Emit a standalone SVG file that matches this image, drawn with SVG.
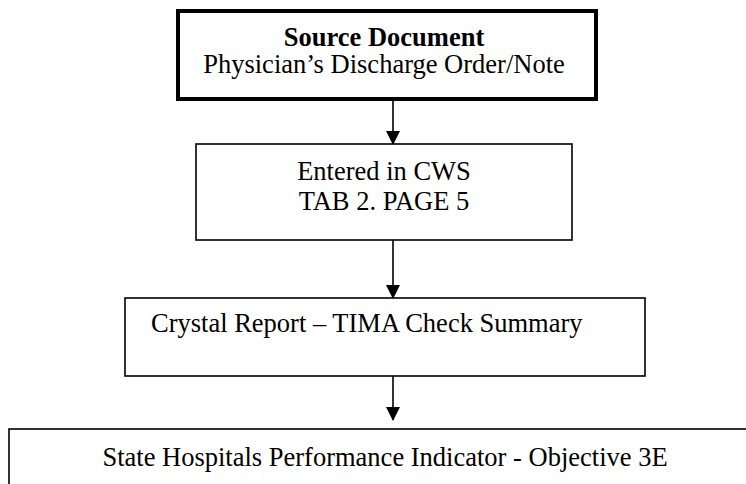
<svg xmlns="http://www.w3.org/2000/svg" width="746" height="484" viewBox="0 0 746 484">
<defs>
<marker id="arr" markerWidth="14" markerHeight="16" refX="13" refY="7" orient="auto" markerUnits="userSpaceOnUse">
<path d="M0,0 L14,7 L0,14 Z" fill="#000"/>
</marker>
<style>
.t{font-family:"Liberation Serif","Times New Roman",serif;font-size:26.5px;fill:#000;text-anchor:middle}
.b{font-weight:bold}
.box{fill:#fff;stroke:#000;stroke-width:1.6}
.thick{fill:#fff;stroke:#000;stroke-width:4}
.c{stroke:#000;stroke-width:1.6;fill:none}
</style>
</defs>
<rect width="746" height="484" fill="#fff"/>
<g id="connectors">
<line class="c" x1="393" y1="101" x2="393" y2="144" marker-end="url(#arr)"/>
<line class="c" x1="393" y1="240" x2="393" y2="298" marker-end="url(#arr)"/>
<line class="c" x1="393" y1="376" x2="393" y2="420" marker-end="url(#arr)"/>
</g>
<g id="n1">
<rect class="thick" x="178" y="11" width="418" height="88"/>
<text class="t b" x="384" y="46">Source Document</text>
<text class="t" x="384" y="73">Physician’s Discharge Order/Note</text>
</g>
<g id="n2">
<rect class="box" x="196" y="144" width="376" height="96"/>
<text class="t" x="384" y="180">Entered in CWS</text>
<text class="t" x="384" y="210">TAB 2. PAGE 5</text>
</g>
<g id="n3">
<rect class="box" x="125" y="298" width="520" height="78"/>
<text class="t" x="151" y="332" style="text-anchor:start">Crystal Report – TIMA Check Summary</text>
</g>
<g id="n4">
<rect class="box" x="9" y="429" width="760" height="80"/>
<text class="t" x="385" y="466">State Hospitals Performance Indicator - Objective 3E</text>
</g>
</svg>
